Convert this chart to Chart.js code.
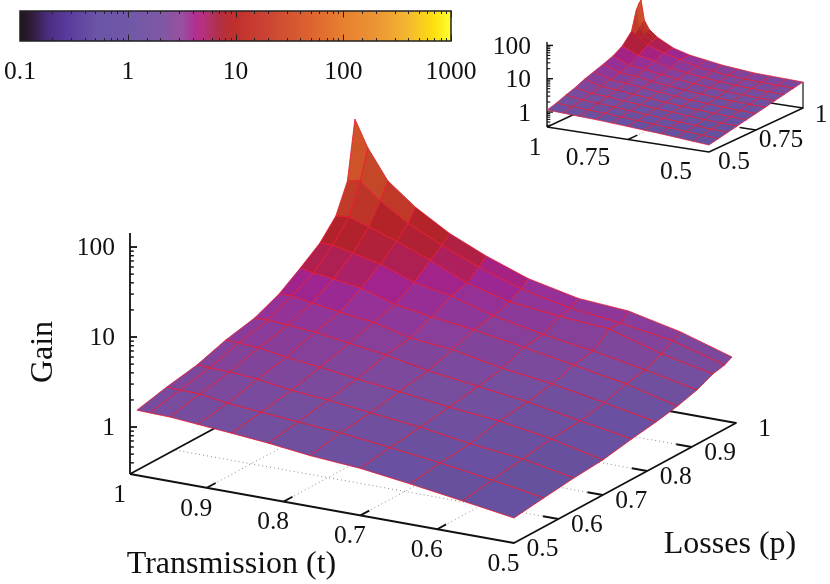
<!DOCTYPE html>
<html>
<head>
<meta charset="utf-8">
<title>Gain surface</title>
<script src="https://cdn.jsdelivr.net/npm/chart.js@4"></script>
<style>
  html, body { margin: 0; padding: 0; background: #fff; }
  canvas { position: absolute; left: 0; top: 0; }
</style>
</head>
<body>
<canvas id="mainChart" width="830" height="584"></canvas>
<canvas id="insetChart" width="830" height="584"></canvas>
<canvas id="barChart" width="500" height="90"></canvas>
<script>
// MEASURED SURFACE (rows follow pMain, columns follow tMain)
const tMain = [0.991, 0.974, 0.948, 0.912, 0.868, 0.82, 0.765, 0.70, 0.635, 0.567, 0.5];
const pMain = [0.5, 0.567, 0.635, 0.70, 0.765, 0.82, 0.868, 0.912, 0.948, 0.974, 0.991];
const gainMain = [
    [1.59, 1.57, 1.55, 1.46, 1.36, 1.25, 1.10, 1.00, 0.845, 0.696, 0.570],
    [1.90, 1.87, 1.85, 1.66, 1.54, 1.42, 1.31, 1.13, 0.958, 0.789, 0.630],
    [2.20, 2.17, 2.14, 2.02, 1.78, 1.64, 1.44, 1.25, 1.03, 0.889, 0.692],
    [2.80, 2.75, 2.66, 2.38, 2.15, 1.89, 1.66, 1.40, 1.24, 0.995, 0.736],
    [3.30, 3.33, 3.21, 3.03, 2.67, 2.34, 1.90, 1.60, 1.35, 1.06, 0.845],
    [4.35, 4.39, 4.03, 3.61, 3.25, 2.58, 2.32, 1.81, 1.53, 1.20, 0.931],
    [6.30, 5.89, 5.55, 4.97, 3.85, 3.29, 2.88, 2.31, 1.85, 1.45, 1.04],
    [9.10, 9.20, 8.22, 7.00, 5.14, 4.29, 3.15, 2.45, 2.02, 1.58, 1.20],
    [14.6, 15.1, 12.8, 10.1, 7.24, 4.80, 3.61, 3.13, 2.85, 1.91, 1.45],
    [30.3, 32.3, 21.2, 13.6, 9.06, 6.15, 4.29, 3.27, 2.82, 2.27, 1.55],
    [134, 67.8, 32.0, 18.5, 11.1, 7.36, 5.00, 3.80, 3.47, 2.58, 1.72]
];

// THEORY SURFACE (small plot, top right)
const tInset = [1, 0.95, 0.9, 0.85, 0.8, 0.75, 0.7, 0.65, 0.6, 0.55, 0.5];
const pInset = [0.5, 0.55, 0.6, 0.65, 0.7, 0.75, 0.8, 0.85, 0.9, 0.95, 1];
const gainInset = [
    [1.15, 1.10, 1.04, 0.993, 0.927, 0.865, 0.802, 0.748, 0.684, 0.625, 0.575],
    [1.38, 1.26, 1.19, 1.13, 1.04, 0.966, 0.893, 0.830, 0.762, 0.700, 0.656],
    [1.77, 1.47, 1.39, 1.28, 1.17, 1.08, 0.993, 0.920, 0.851, 0.785, 0.748],
    [2.19, 1.72, 1.62, 1.46, 1.32, 1.20, 1.11, 1.02, 0.948, 0.879, 0.853],
    [2.90, 2.05, 1.91, 1.68, 1.51, 1.36, 1.24, 1.15, 1.07, 1.00, 0.973],
    [3.60, 2.45, 2.26, 1.94, 1.73, 1.53, 1.40, 1.29, 1.21, 1.14, 1.11],
    [4.46, 2.92, 2.68, 2.24, 1.97, 1.73, 1.58, 1.45, 1.36, 1.29, 1.26],
    [5.71, 3.57, 3.18, 2.62, 2.28, 1.98, 1.80, 1.64, 1.56, 1.48, 1.45],
    [8.41, 5.2, 4.2, 3.02, 2.60, 2.24, 2.03, 1.85, 1.76, 1.68, 1.65],
    [17.5, 8.0, 5.4, 4.0, 3.01, 2.56, 2.31, 2.09, 2.01, 1.93, 1.88],
    [110, 10.1, 5.64, 4.13, 3.48, 2.92, 2.64, 2.38, 2.30, 2.22, 2.14]
];

// finer samples for the peak of the small plot
const tCap = [1, 0.99, 0.975, 0.95];
const pCap = [0.95, 0.975, 0.99, 1];
const gainCap = [
    [17.5, 14, 10, 8.0],
    [63, 20, 13, 9.0],
    [95, 26, 15, 9.8],
    [110, 28.6, 15.9, 10.1]
];

// TICKS
const tTicksMain = [1, 0.9, 0.8, 0.7, 0.6, 0.5];
const pTicksMain = [0.5, 0.6, 0.7, 0.8, 0.9, 1];
const tTicksInset = [1, 0.75, 0.5];
const pTicksInset = [0.5, 0.75, 1];
const zMajor = [1, 10, 100];
const zMinor = [0.4, 0.5, 0.6, 0.7, 0.8, 0.9, 2, 3, 4, 5, 6, 7, 8, 9, 20, 30, 40, 50, 60, 70, 80, 90];
const barDecades = [0.1, 1, 10, 100, 1000];

// PALETTES: surface colours as they show on the mesh, bar colours as they show on the key
const surfaceGain = [0.7, 1, 1.5, 2.5, 3.8, 4.9, 5.6, 6.8, 8.5, 11, 14, 21, 35, 56, 140];
const surfaceRgb = [
    [101, 81, 159], [106, 80, 160], [116, 79, 159], [132, 66, 154], [148, 50, 152], [158, 36, 144],
    [166, 34, 130], [174, 32, 88], [176, 32, 64], [178, 34, 44], [178, 36, 40], [192, 58, 40], [196, 72, 40], [208, 84, 40], [226, 110, 44]
];
const barGain = [0.1, 0.13, 0.18, 0.27, 0.5, 1, 2, 3.2, 4.2, 5, 6.6, 8, 10, 20, 50, 100, 200, 400, 700, 1000];
const barRgb = [
    [30, 20, 24], [52, 28, 60], [74, 44, 128], [90, 58, 156], [106, 84, 166], [112, 88, 168], [126, 88, 164],
    [152, 80, 160], [176, 48, 144], [184, 48, 128], [176, 48, 80], [184, 48, 56], [192, 48, 44], [204, 68, 52],
    [220, 100, 48], [232, 128, 48], [236, 148, 52], [244, 184, 48], [252, 224, 16], [255, 255, 48]
];

const FONT = '"Liberation Serif"';
const INK = '#111';
const MESH = '#e8182f';

function stopColor(stops, colors, gain) {
    const v = Math.log10(gain);
    let k = 0;
    while (k < stops.length - 2 && v > Math.log10(stops[k + 1])) k++;
    const lo = Math.log10(stops[k]);
    const hi = Math.log10(stops[k + 1]);
    const f = Math.min(1, Math.max(0, (v - lo) / (hi - lo)));
    const c = colors[k].map((x, n) => Math.round(x + (colors[k + 1][n] - x) * f));
    return `rgb(${c[0]},${c[1]},${c[2]})`;
}

function project(view, t, p, gain) {
    const a = (1 - t) / 0.5;
    const b = (p - 0.5) / 0.5;
    return {
        x: view.ox + view.tx * a + view.px * b,
        y: view.oy + view.ty * a + view.py * b - view.decade * Math.log10(gain / view.zFloor)
    };
}

function poly(data, color, width, fillColor, dash) {
    return {
        data: data,
        borderColor: color,
        borderWidth: width,
        backgroundColor: fillColor || 'transparent',
        fill: fillColor ? 'shape' : false,
        borderDash: dash || [],
        borderJoinStyle: 'round',
        pointRadius: 0,
        tension: 0
    };
}

function cell(view, ts, ps, gains, i, j, color, width) {
    const corners = [[i, j], [i + 1, j], [i + 1, j + 1], [i, j + 1], [i, j]];
    const pts = corners.map(([c, r]) => project(view, ts[c], ps[r], gains[r][c]));
    const meanLog = (Math.log10(gains[j][i]) + Math.log10(gains[j][i + 1]) +
        Math.log10(gains[j + 1][i]) + Math.log10(gains[j + 1][i + 1])) / 4;
    const fillColor = stopColor(surfaceGain, surfaceRgb, Math.pow(10, meanLog));
    return poly(pts, color || fillColor, width, fillColor);
}

function floorPoint(view, t, p) {
    return project(view, t, p, view.zFloor);
}

function frameDatasets(view, tTicks, pTicks) {
    const sets = [];
    const tLo = 0.5, tHi = 1, pLo = 0.5, pHi = 1;

    // dotted floor grid
    tTicks.filter(t => t > tLo && t < tHi).forEach(t => {
        sets.push(poly([floorPoint(view, t, pLo), floorPoint(view, t, pHi)], '#8c8c8c', 1, null, [1, 3]));
    });
    pTicks.filter(p => p > pLo && p < pHi).forEach(p => {
        sets.push(poly([floorPoint(view, tLo, p), floorPoint(view, tHi, p)], '#8c8c8c', 1, null, [1, 3]));
    });

    // floor edges
    const corners = [[tHi, pLo], [tLo, pLo], [tLo, pHi], [tHi, pHi], [tHi, pLo]];
    sets.push(poly(corners.map(([t, p]) => floorPoint(view, t, p)), INK, view.axisWidth));

    // short ticks on the two front edges
    tTicks.filter(t => t > tLo && t < tHi).forEach(t => {
        sets.push(poly([floorPoint(view, t, pLo), floorPoint(view, t, pLo + view.tickSpan)], INK, view.axisWidth));
    });
    pTicks.filter(p => p > pLo && p < pHi).forEach(p => {
        sets.push(poly([floorPoint(view, tLo, p), floorPoint(view, tLo + view.tickSpan, p)], INK, view.axisWidth));
    });

    // vertical gain axis
    const base = floorPoint(view, tHi, pLo);
    const top = project(view, tHi, pLo, view.zTop);
    sets.push(poly([base, top], INK, view.axisWidth));
    zMajor.forEach(z => {
        const q = project(view, tHi, pLo, z);
        sets.push(poly([q, { x: q.x + view.zTick, y: q.y }], INK, view.axisWidth));
    });
    zMinor.forEach(z => {
        const q = project(view, tHi, pLo, z);
        sets.push(poly([q, { x: q.x + view.zTick * 0.55, y: q.y }], INK, view.axisWidth * 0.8));
    });
    return sets;
}

function labelPlugin(labels) {
    return {
        id: 'labels',
        afterDraw(chart) {
            const ctx = chart.ctx;
            ctx.save();
            ctx.fillStyle = INK;
            ctx.textBaseline = 'middle';
            labels.forEach(l => {
                ctx.save();
                ctx.translate(l.x, l.y);
                if (l.rotate) ctx.rotate(l.rotate);
                ctx.font = `${l.size}px ${FONT}`;
                ctx.textAlign = l.align || 'center';
                ctx.fillText(l.text, 0, 0);
                ctx.restore();
            });
            ctx.restore();
        }
    };
}

function surfaceChart(id, datasets, labels) {
    // painter's order: the library draws the first dataset last
    datasets.reverse();
    return new Chart(document.getElementById(id), {
        type: 'line',
        data: { datasets: datasets },
        options: {
            responsive: false,
            animation: false,
            events: [],
            layout: { padding: 0 },
            plugins: { legend: { display: false }, tooltip: { enabled: false } },
            scales: {
                x: { type: 'linear', display: false, min: 0, max: 830 },
                y: { type: 'linear', display: false, min: 0, max: 584, reverse: true }
            }
        },
        plugins: [labelPlugin(labels)]
    });
}

// MAIN PLOT
const mainView = {
    ox: 130, oy: 474, tx: 384, ty: 69, px: 222, py: -120,
    decade: 90, zFloor: 0.3006, zTop: 143,
    axisWidth: 1.8, tickSpan: 0.02, zTick: 7
};
const mainSets = frameDatasets(mainView, tTicksMain, pTicksMain);
for (let j = pMain.length - 2; j >= 0; j--) {
    for (let i = 0; i < tMain.length - 1; i++) {
        mainSets.push(cell(mainView, tMain, pMain, gainMain, i, j, MESH, 0.8));
    }
}
const mainLabels = [
    { text: 'Gain', x: 44, y: 352, size: 32, rotate: -Math.PI / 2 },
    { text: 'Transmission (t)', x: 231.5, y: 565, size: 32 },
    { text: 'Losses (p)', x: 730, y: 545, size: 32 }
];
zMajor.forEach(z => {
    const q = project(mainView, 1, 0.5, z);
    mainLabels.push({ text: String(z), x: 115, y: q.y + 1, size: 25.5, align: 'right' });
});
tTicksMain.forEach(t => {
    const q = floorPoint(mainView, t, 0.5);
    mainLabels.push({ text: String(t), x: q.x - 10.5, y: q.y + 21, size: 25.5 });
});
pTicksMain.forEach(p => {
    const q = floorPoint(mainView, 0.5, p);
    mainLabels.push({ text: String(p), x: q.x + 28.5, y: q.y + 6, size: 25.5 });
});
surfaceChart('mainChart', mainSets, mainLabels);

// SMALL PLOT
const insetView = {
    ox: 547, oy: 127, tx: 162, ty: 25, px: 94, py: -44,
    decade: 33.3, zFloor: 0.355, zTop: 126,
    axisWidth: 1.4, tickSpan: 0.05, zTick: 6
};
const insetSets = frameDatasets(insetView, tTicksInset, pTicksInset);
insetSets.push(poly([floorPoint(insetView, 0.5, 1), project(insetView, 0.5, 1, gainInset[10][10])], INK, 1.2));
for (let r = pCap.length - 2; r >= 0; r--) {
    for (let c = 0; c < tCap.length - 1; c++) {
        insetSets.push(cell(insetView, tCap, pCap, gainCap, c, r, null, 0.6));
    }
}
insetSets.push(poly(pCap.map((p, r) => project(insetView, tCap[0], p, gainCap[r][0])), MESH, 0.7));
insetSets.push(poly(tCap.map((t, c) => project(insetView, t, pCap[3], gainCap[3][c])), MESH, 0.7));
for (let j = pInset.length - 2; j >= 0; j--) {
    for (let i = 0; i < tInset.length - 1; i++) {
        if (i === 0 && j === pInset.length - 2) continue; // peak cell comes from the cap samples
        insetSets.push(cell(insetView, tInset, pInset, gainInset, i, j, MESH, 0.7));
    }
}
const insetLabels = [
    { text: '1', x: 535, y: 148, size: 25.5 },
    { text: '0.75', x: 588, y: 158, size: 25.5 },
    { text: '0.5', x: 676, y: 172, size: 25.5 },
    { text: '0.5', x: 734, y: 162, size: 25.5 },
    { text: '0.75', x: 781, y: 140, size: 25.5 },
    { text: '1', x: 821, y: 115, size: 25.5 }
];
zMajor.forEach(z => {
    const q = project(insetView, 1, 0.5, z);
    insetLabels.push({ text: String(z), x: 531, y: q.y + 2, size: 25.5, align: 'right' });
});
surfaceChart('insetChart', insetSets, insetLabels);

// COLOUR BAR
const barFrame = {
    id: 'barFrame',
    afterDatasetsDraw(chart) {
        const { ctx, chartArea: area, scales } = chart;
        ctx.save();
        ctx.strokeStyle = '#222';
        ctx.lineWidth = 1;
        scales.x.ticks.forEach(tick => {
            const x = Math.round(scales.x.getPixelForValue(tick.value)) + 0.5;
            const len = tick.major ? 6.5 : 3;
            ctx.beginPath();
            ctx.moveTo(x, area.top);
            ctx.lineTo(x, area.top + len);
            ctx.moveTo(x, area.bottom);
            ctx.lineTo(x, area.bottom - len);
            ctx.stroke();
        });
        ctx.lineWidth = 1.5;
        ctx.strokeRect(area.left, area.top, area.right - area.left, area.bottom - area.top);
        ctx.restore();
    }
};

new Chart(document.getElementById('barChart'), {
    type: 'bar',
    data: {
        labels: [''],
        datasets: [{
            data: [[barDecades[0], barDecades[barDecades.length - 1]]],
            barPercentage: 1,
            categoryPercentage: 1,
            backgroundColor(context) {
                const { chart } = context;
                if (!chart.chartArea) return '#000';
                const { left, right } = chart.chartArea;
                const grad = chart.ctx.createLinearGradient(left, 0, right, 0);
                barGain.forEach(g => {
                    const off = (chart.scales.x.getPixelForValue(g) - left) / (right - left);
                    grad.addColorStop(Math.min(1, Math.max(0, off)), stopColor(barGain, barRgb, g));
                });
                return grad;
            }
        }]
    },
    options: {
        indexAxis: 'y',
        responsive: false,
        animation: false,
        events: [],
        layout: { padding: { left: 20, right: 49, top: 11, bottom: 9 } },
        plugins: { legend: { display: false }, tooltip: { enabled: false } },
        scales: {
            y: { display: false },
            x: {
                type: 'logarithmic',
                min: barDecades[0],
                max: barDecades[barDecades.length - 1],
                border: { display: false },
                grid: { display: false, drawTicks: false },
                afterFit(scale) {
                    scale.height = 40;
                    scale.paddingLeft = 0;
                    scale.paddingRight = 0;
                },
                ticks: {
                    autoSkip: false,
                    maxRotation: 0,
                    padding: 16,
                    color: INK,
                    font: { family: 'Liberation Serif', size: 25.5 },
                    callback: value => barDecades.includes(value) ? String(value) : ''
                }
            }
        }
    },
    plugins: [barFrame]
});
</script>
</body>
</html>
